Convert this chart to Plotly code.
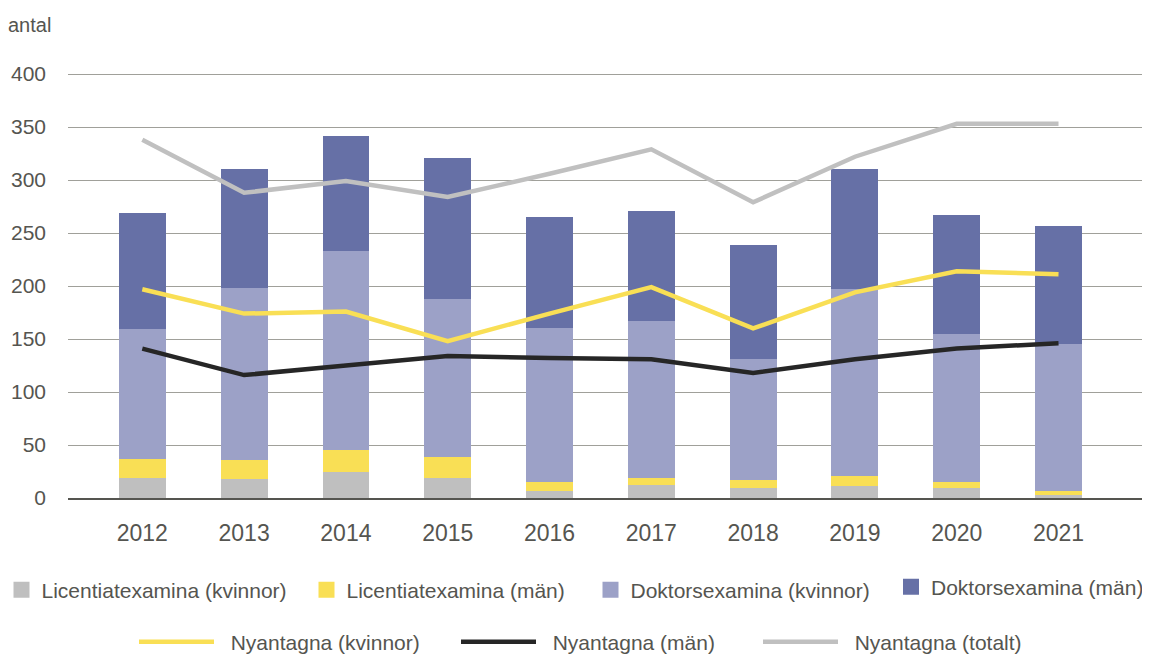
import plotly.graph_objects as go

years = ["2012", "2013", "2014", "2015", "2016", "2017", "2018", "2019", "2020", "2021"]

lic_kvinnor = [19, 18, 25, 19, 7, 12, 9, 11, 9, 3]
lic_man = [18, 18, 20, 20, 8, 7, 8, 10, 6, 4]
dok_kvinnor = [122, 162, 188, 149, 145, 148, 114, 176, 140, 138]
dok_man = [110, 112, 109, 133, 105, 104, 108, 113, 112, 112]

ny_kvinnor = [197, 174, 176, 148, 174, 199, 160, 194, 214, 211]
ny_man = [141, 116, 125, 134, 132, 131, 118, 131, 141, 146]
ny_totalt = [338, 288, 299, 284, 306, 329, 279, 322, 353, 353]

font = "Liberation Sans, Arial, sans-serif"
textcol = "#555550"

# the page body adds 8px margin, so the figure is 8px smaller than the window
W, H = 1142, 647
L, R, T, B = 60, 1135, 65, 490   # plot area in figure pixels
def px_x(x):
    return (x - L) / (R - L)
def px_y(y):
    return (B - y) / (B - T)

fig = go.Figure()

bars = [
    ("Licentiatexamina (kvinnor)", lic_kvinnor, "#bfbfbf", 260, "legend"),
    ("Licentiatexamina (män)", lic_man, "#f9df55", 239, "legend"),
    ("Doktorsexamina (kvinnor)", dok_kvinnor, "#9ca1c7", 258, "legend"),
    ("Doktorsexamina (män)", dok_man, "#6670a6", 0, "legend3"),
]
for name, vals, col, lw, lg in bars:
    fig.add_trace(go.Bar(x=years, y=vals, name=name, marker_color=col,
                         marker_line_width=0, width=0.46, showlegend=False))
# legend swatches for the bars (bigger squares than plotly's bar symbol)
for name, vals, col, lw, lg in bars:
    fig.add_trace(go.Scatter(x=[None], y=[None], name=name, mode="markers",
                             marker=dict(symbol="square", size=16, color=col),
                             legend=lg, legendwidth=lw))

lines = [
    ("Nyantagna (kvinnor)", ny_kvinnor, "#f9df55", 232),
    ("Nyantagna (män)", ny_man, "#262626", 212),
    ("Nyantagna (totalt)", ny_totalt, "#c0c0c0", 0),
]
pad = "\u00a0\u00a0"  # a little extra gap between line swatch and text
for name, vals, col, lw in lines:
    fig.add_trace(go.Scatter(x=years, y=vals, name=pad + name, mode="lines",
                             line=dict(color=col, width=4.5), legend="legend2",
                             legendwidth=lw))

lfont = dict(size=21, color=textcol)
fig.update_layout(
    barmode="stack",
    width=W, height=H,
    margin=dict(l=L, r=W - R, t=T, b=H - B, autoexpand=False),
    plot_bgcolor="white", paper_bgcolor="white",
    font=dict(family=font, size=20, color=textcol),
    legend=dict(orientation="h", x=px_x(-6.5), y=px_y(582),
                xanchor="left", yanchor="middle", font=lfont,
                traceorder="normal", itemsizing="trace"),
    legend3=dict(orientation="h", x=px_x(883), y=px_y(579),
                 xanchor="left", yanchor="middle", font=lfont,
                 itemsizing="trace"),
    legend2=dict(orientation="h", x=px_x(126), y=px_y(634),
                 xanchor="left", yanchor="middle", itemwidth=75, font=lfont),
    annotations=[dict(text="antal", xref="paper", yref="paper",
                      x=px_x(-2), y=px_y(17), xanchor="left", yanchor="middle",
                      showarrow=False, font=dict(size=20, color=textcol))],
)
fig.update_xaxes(type="category", range=[-0.73, 9.83], showgrid=False,
                 showline=True, linecolor="#555550", linewidth=2,
                 ticks="", ticklabelstandoff=13, tickfont=dict(size=23),
                 automargin=False)
fig.update_yaxes(range=[0, 401], dtick=50, showgrid=True, gridcolor="#a0a09a",
                 gridwidth=1.3, zeroline=False, ticks="", ticklabelstandoff=21,
                 tickfont=dict(size=21), automargin=False)

fig.write_html("out.html")
